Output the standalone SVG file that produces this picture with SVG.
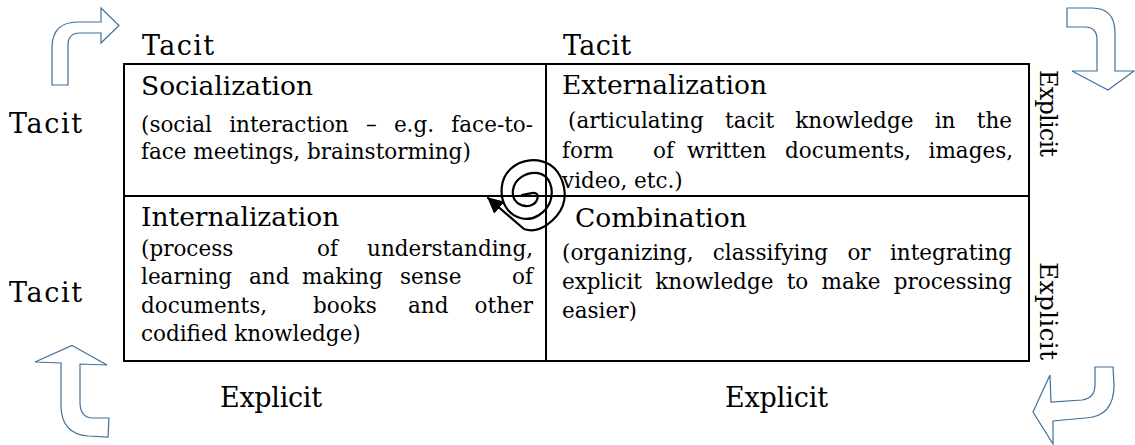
<svg xmlns="http://www.w3.org/2000/svg" width="1135" height="445" viewBox="0 0 1135 445">
  <style>
    text { font-family: "DejaVu Serif", "Liberation Serif", serif; fill: #000; }
    .label { font-size: 27px; }
    .title { font-size: 26.5px; }
    .body { font-size: 21.5px; }
    .grid { fill: none; stroke: #000; stroke-width: 2; }
    .block { fill: #fff; stroke: #41719c; stroke-width: 1.2; stroke-linejoin: miter; }
    .spiral { fill: none; stroke: #000; stroke-width: 2.2; stroke-linecap: round; stroke-linejoin: round; }
  </style>
  <defs>
    <marker id="head" viewBox="0 0 16 16" refX="15" refY="8" markerWidth="16" markerHeight="16" markerUnits="userSpaceOnUse" orient="auto">
      <path d="M0,0 L16,8 L0,16 z" fill="#000"/>
    </marker>
  </defs>
  <rect width="1135" height="445" fill="#fff"/>

  <!-- axis labels -->
  <g id="axis-labels">
    <text class="label" x="142" y="55" textLength="72">Tacit</text>
    <text class="label" x="563" y="55" textLength="68">Tacit</text>
    <text class="label" x="9" y="133" textLength="73">Tacit</text>
    <text class="label" x="9" y="302" textLength="73">Tacit</text>
    <text class="label" x="220" y="407" textLength="102">Explicit</text>
    <text class="label" x="725" y="407" textLength="103">Explicit</text>
    <text class="label" style="font-size:24px" x="1040" y="70" textLength="87" transform="rotate(90 1040 70)">Explicit</text>
    <text class="label" style="font-size:25px" x="1040" y="262" textLength="98" transform="rotate(90 1040 262)">Explicit</text>
  </g>

  <!-- 2x2 grid -->
  <g id="grid">
    <rect class="grid" x="124" y="64" width="905" height="297"/>
    <line class="grid" x1="546" y1="64" x2="546" y2="361"/>
    <line class="grid" x1="124" y1="196" x2="1029" y2="196"/>
  </g>

  <g id="socialization">
    <text class="title" x="141" y="95">Socialization</text>
    <text class="body" y="132"><tspan x="141">(social</tspan><tspan x="229.2">interaction</tspan><tspan x="365.9">–</tspan><tspan x="393.9">e.g.</tspan></text>
    <text class="body" x="533" y="132" text-anchor="end">face-to-</text>
    <text class="body" x="141" y="159">face meetings, brainstorming)</text>
  </g>

  <g id="externalization">
    <text class="title" x="562" y="94">Externalization</text>
    <text class="body" y="128"><tspan x="568">(articulating</tspan><tspan x="725">tacit</tspan><tspan x="795.3">knowledge</tspan><tspan x="934.7">in</tspan></text>
    <text class="body" x="1012" y="128" text-anchor="end">the</text>
    <text class="body" y="158"><tspan x="562">form</tspan><tspan x="653">of</tspan><tspan x="687">written</tspan><tspan x="785">documents,</tspan></text>
    <text class="body" x="1013" y="158" text-anchor="end">images,</text>
    <text class="body" x="562" y="188">video, etc.)</text>
  </g>

  <g id="internalization">
    <text class="title" x="141" y="226">Internalization</text>
    <text class="body" y="256"><tspan x="141">(process</tspan><tspan x="317">of</tspan></text>
    <text class="body" x="533" y="256" text-anchor="end">understanding,</text>
    <text class="body" y="284"><tspan x="141">learning</tspan><tspan x="249">and</tspan><tspan x="302">making</tspan><tspan x="400">sense</tspan></text>
    <text class="body" x="533" y="284" text-anchor="end">of</text>
    <text class="body" y="313"><tspan x="141">documents,</tspan><tspan x="313">books</tspan><tspan x="408">and</tspan></text>
    <text class="body" x="533" y="313" text-anchor="end">other</text>
    <text class="body" x="141" y="341">codified knowledge)</text>
  </g>

  <g id="combination">
    <text class="title" x="575" y="227">Combination</text>
    <text class="body" y="260"><tspan x="562">(organizing,</tspan><tspan x="712.8">classifying</tspan><tspan x="847.4">or</tspan></text>
    <text class="body" x="1012" y="260" text-anchor="end">integrating</text>
    <text class="body" y="289"><tspan x="562">explicit</tspan><tspan x="655.3">knowledge</tspan><tspan x="786.7">to</tspan><tspan x="821.5">make</tspan></text>
    <text class="body" x="1012" y="289" text-anchor="end">processing</text>
    <text class="body" x="562" y="318">easier)</text>
  </g>

  <!-- connectors: corner block arrows and central spiral -->
  <g id="connectors">
    <path class="block" d="M52,85 L52,48 Q52,22 78,22 L101,22 L101,8 L119,25.5 L101,43 L101,33 L80,33 Q68,33 68,45 L68,85 Z"/>
    <path class="block" d="M1067,8 L1092,8 Q1115,8 1115,33 L1115,71 L1134,71 L1108,90 L1072,71 L1097,71 L1097,40 Q1097,27 1085,27 L1067,27 Z"/>
    <path class="block" d="M1033,412 L1050,375 L1051,402 L1082,400 Q1095,398 1095,385 L1095,367 L1113,367 L1114,385 Q1114,417 1085,418 L1053,421 L1053,444 Z"/>
    <path class="block" d="M72,345.5 L107,365 L80,364 L80,402 Q80,418 93,418 L109,418 L108,437 L88,436 Q61,434 61,405 L61,363 L35,362 Z"/>
    <path class="spiral" marker-end="url(#head)" d="M521.9,195 L530.3,193.3 Q538.7,191.6 537.6,197.8 Q536.5,204 529.8,205.7 Q523,207.3 517.4,202.9 Q511.8,198.4 513,190 Q514.1,181.6 522,176.6 Q529.8,171.5 538.2,173.2 Q546.6,174.8 550,183.2 Q553.3,191.6 550.5,200.6 Q547.7,209.6 538.8,215.2 Q529.8,220.8 520.3,218 Q510.7,215.2 505.7,206.8 Q500.6,198.4 501.8,187.2 Q502.9,176 510.8,168.7 Q518.6,161.4 529.8,160.3 Q541,159.2 550,164.8 Q558.9,170.4 562.8,182.7 Q566.7,195 562.8,205.7 Q558.9,216.3 547.2,224.7 Q535.4,233.1 524,229 L488,198"/>
  </g>
</svg>
